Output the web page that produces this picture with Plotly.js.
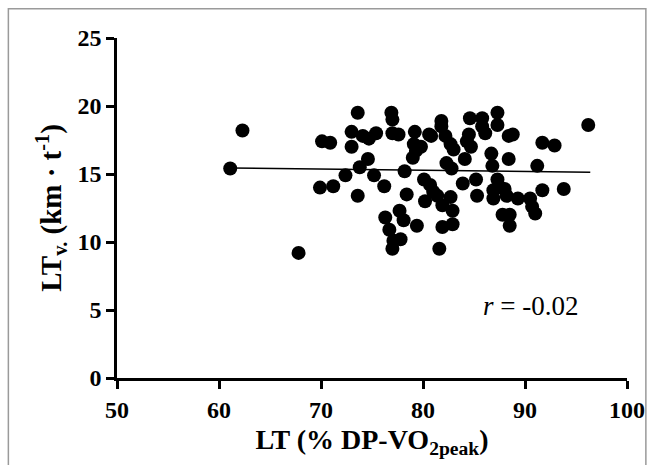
<!DOCTYPE html>
<html>
<head>
<meta charset="utf-8">
<script src="https://cdn.plot.ly/plotly-3.0.1.min.js"></script>
<style>
html,body{margin:0;padding:0;background:#fff;}
#chart{width:656px;height:465px;}
</style>
</head>
<body>
<div id="chart"></div>
<script>
const ltPercent = [61.1,62.3,67.8,69.9,70.1,70.9,71.2,72.4,73.0,73.0,73.6,73.6,73.8,74.1,74.7,74.6,75.4,75.2,76.2,76.3,76.7,76.9,77.0,77.0,77.1,77.0,77.6,77.7,77.8,78.1,78.2,78.4,79.2,79.1,79.0,79.3,79.4,79.8,80.1,80.2,80.6,80.7,80.8,81.0,81.4,81.6,81.8,81.8,81.9,81.9,82.2,82.3,82.7,82.7,82.8,82.9,82.9,83.0,83.9,84.1,84.3,84.5,84.6,84.7,85.2,85.3,85.8,85.8,86.1,86.7,86.8,86.9,86.9,87.3,87.3,87.3,87.6,87.8,88.0,88.2,88.4,88.4,88.5,88.5,88.8,89.3,90.5,90.7,91.0,91.2,91.7,91.7,92.9,93.8,96.2];
const ltVelocity = [15.4,18.2,9.2,14.0,17.4,17.3,14.1,14.9,17.0,18.1,19.5,13.4,15.5,17.8,17.6,16.1,18.0,14.9,14.1,11.8,10.9,19.5,19.0,18.0,10.1,9.5,17.9,12.3,10.2,11.6,15.2,13.5,18.1,17.2,16.2,16.7,11.2,17.0,14.6,13.0,17.9,14.2,17.8,13.7,13.4,9.5,18.9,18.5,12.7,11.1,17.8,15.8,17.2,13.3,15.4,12.3,11.3,16.8,14.3,16.1,17.4,17.9,19.1,17.0,14.6,13.4,19.1,18.5,18.0,16.5,15.6,13.8,13.2,19.5,18.6,14.6,14.0,12.0,13.9,13.4,17.8,16.1,12.0,11.2,17.9,13.2,13.2,12.6,12.1,15.6,17.3,13.8,17.1,13.9,18.6];
const fitX = [61.2, 96.4];
const fitY = [15.45, 15.12];
const xTicks = [50,60,70,80,90,100];
const yTicks = [0,5,10,15,20,25];

const serif = 'Liberation Serif';
const tickFont = {family:serif, size:24, color:'#000000', weight:700};
const traces = [
  {x: ltPercent, y: ltVelocity, type:'scatter', mode:'markers', marker:{size:14, color:'#000'}, cliponaxis:false},
  {x: fitX, y: fitY, type:'scatter', mode:'lines', line:{color:'#000', width:1.5}}
];
const layout = {
  width:656, height:465,
  margin:{l:117, r:29, t:38, b:87},
  paper_bgcolor:'#fff', plot_bgcolor:'#fff',
  showlegend:false,
  font:{family:serif, color:'#000000', size:24},
  xaxis:{range:[50,100], tickvals:xTicks, ticktext:xTicks.map(String), showgrid:false, zeroline:false,
    showline:true, linewidth:2.5, linecolor:'#000', ticks:'outside', ticklen:8, tickwidth:2.5, tickcolor:'#000',
    tickfont:tickFont,
    title:{text:'LT (% DP-VO<sub>2peak</sub>)', font:{family:serif, size:28, color:'#000000', weight:700}, standoff:8}},
  yaxis:{range:[0,25], tickvals:yTicks, ticktext:yTicks.map(String), showgrid:false, zeroline:false,
    showline:true, linewidth:2.5, linecolor:'#000', ticks:'outside', ticklen:8, tickwidth:2.5, tickcolor:'#000',
    tickfont:tickFont,
    title:{text:'LT<sub>v.</sub> (km · t<sup>-1</sup>)', font:{family:serif, size:29, color:'#000000', weight:700}, standoff:8}},
  annotations:[{x:90.5, y:5.3, xref:'x', yref:'y', text:'<i>r</i> = -0.02', showarrow:false, font:{family:serif, size:27, color:'#000000'}}],
  shapes:[{type:'rect', xref:'paper', yref:'paper', x0:-0.213, x1:1.037, y0:-0.4, y1:1.086, line:{color:'#9a9a9a', width:1.5}, fillcolor:'rgba(0,0,0,0)', layer:'below'}]
};
Plotly.newPlot('chart', traces, layout, {displayModeBar:false});
</script>
</body>
</html>
